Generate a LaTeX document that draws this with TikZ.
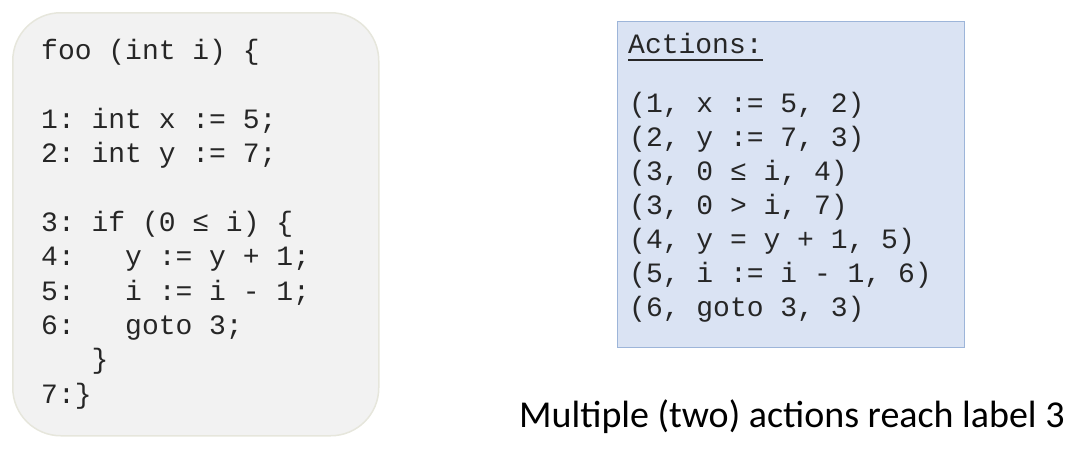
\documentclass[tikz,border=0pt]{standalone}
\usepackage{fontspec}
\setmonofont{Liberation Mono}
\newfontfamily\notefont{Carlito}
\usetikzlibrary{positioning}

\definecolor{progfill}{HTML}{F2F2F2}
\definecolor{progedge}{HTML}{E6E6DC}
\definecolor{actfill}{HTML}{DAE3F3}
\definecolor{actedge}{HTML}{9DB5D9}
\definecolor{ink}{HTML}{262626}

\begin{document}
\begin{tikzpicture}[x=1pt,y=-1pt,
    code/.style={font=\ttfamily\fontsize{28}{34}\selectfont,text=ink,inner sep=0pt,anchor=base west},
    panel/.style={inner sep=0pt,anchor=north west,line width=1.5pt}]
    \useasboundingbox (0,0) rectangle (1080,471);
    % program box
    \node[panel,draw=progedge,fill=progfill,rounded corners=48pt,
          minimum width=366pt,minimum height=423pt] (prog) at (12,12) {};
    \foreach \r/\txt in {0/{foo (int i) \{},
                         2/{1: int x := 5;},
                         3/{2: int y := 7;},
                         5/{3: if (0 ≤ i) \{},
                         6/{4:\ \ \ y := y + 1;},
                         7/{5:\ \ \ i := i - 1;},
                         8/{6:\ \ \ goto 3;},
                         9/{\ \ \ \}},
                         10/{7:\}}}
        \node[code] (p\r) at (41,{59.6+34.35*\r}) {\txt};
    % actions box
    \node[panel,draw=actedge,fill=actfill,line width=1pt,
          minimum width=347pt,minimum height=326pt] (acts) at (617,21) {};
    \node[code] (head) at (628,53) {Actions:};
    \draw[ink,line width=1.2pt] ([yshift=-7pt]head.base west) -- ([yshift=-7pt]head.base east);
    \foreach \r/\txt in {0/{(1, x := 5, 2)},
                         1/{(2, y := 7, 3)},
                         2/{(3, 0 ≤ i, 4)},
                         3/{(3, 0 > i, 7)},
                         4/{(4, y = y + 1, 5)},
                         5/{(5, i := i - 1, 6)},
                         6/{(6, goto 3, 3)}}
        \node[code] (a\r) at (629,{112.7+34*\r}) {\txt};
    % note
    \node[inner sep=0pt,anchor=base west,font=\notefont\fontsize{38}{44}\selectfont]
        (note) at (519,427) {Multiple (two) actions reach label 3};
\end{tikzpicture}
\end{document}
